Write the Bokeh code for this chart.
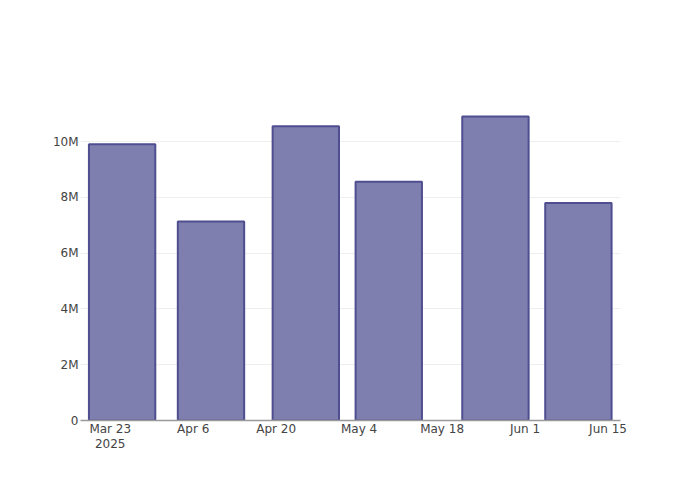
from datetime import datetime
from bokeh.plotting import figure
from bokeh.models import Range1d, FixedTicker, ColumnDataSource, LinearAxis
from bokeh.embed import file_html
from bokeh.resources import INLINE

dates = [datetime(2025, 3, 25), datetime(2025, 4, 9), datetime(2025, 4, 25),
         datetime(2025, 5, 9), datetime(2025, 5, 27), datetime(2025, 6, 10)]
values = [9.9e6, 7.13e6, 10.55e6, 8.56e6, 10.9e6, 7.8e6]

x_tick_dates = [datetime(2025, 3, 23), datetime(2025, 4, 6), datetime(2025, 4, 20),
                datetime(2025, 5, 4), datetime(2025, 5, 18), datetime(2025, 6, 1),
                datetime(2025, 6, 15)]
x_tick_labels = ["Mar 23", "Apr 6", "Apr 20", "May 4", "May 18", "Jun 1", "Jun 15"]
year_label = "2025"
y_ticks = [0, 2e6, 4e6, 6e6, 8e6, 10e6]
y_tick_labels = ["0", "2M", "4M", "6M", "8M", "10M"]

def ms(d):
    return (d - datetime(1970, 1, 1)).total_seconds() * 1000.0

FONT = "DejaVu Sans"
TXT = "#444444"

p = figure(output_backend="svg", toolbar_location=None,
           frame_width=540, frame_height=320,
           min_border_left=80, min_border_right=64,
           min_border_top=100, min_border_bottom=64,
           x_range=Range1d(ms(datetime(2025, 3, 17, 23, 30)), ms(datetime(2025, 6, 17, 2, 30))),
           y_range=Range1d(0, 11.47e6))
p.outline_line_color = None
p.background_fill_color = "white"
p.border_fill_color = "white"

src = ColumnDataSource(dict(x=[ms(d) for d in dates], top=values))
p.vbar(x="x", top="top", bottom=0, width=11.2 * 86400000, source=src,
       fill_color="#7F7FAF", line_color="#4E4E90", line_width=2)

# x axis
xa = p.xaxis[0]
xa.ticker = FixedTicker(ticks=[ms(d) for d in x_tick_dates])
xa.major_label_overrides = {ms(d): lab for d, lab in zip(x_tick_dates, x_tick_labels)}
xa.axis_line_color = "#9a9a9a"
xa.axis_line_width = 1.5
xa.major_tick_line_color = None
xa.minor_tick_line_color = None
xa.major_label_standoff = -5
xa.major_label_text_font = FONT
xa.major_label_text_font_size = "12px"
xa.major_label_text_color = TXT

# second row of x labels (year)
xa2 = LinearAxis(ticker=FixedTicker(ticks=[ms(x_tick_dates[0])]),
                 major_label_overrides={ms(x_tick_dates[0]): year_label})
xa2.axis_line_color = None
xa2.major_tick_line_color = None
xa2.minor_tick_line_color = None
xa2.major_label_standoff = -6
xa2.major_label_text_font = FONT
xa2.major_label_text_font_size = "12px"
xa2.major_label_text_color = TXT
p.add_layout(xa2, "below")

# y axis
ya = p.yaxis[0]
ya.ticker = FixedTicker(ticks=y_ticks)
ya.major_label_overrides = {float(t): lab for t, lab in zip(y_ticks, y_tick_labels)}
ya.axis_line_color = None
ya.major_tick_line_color = None
ya.minor_tick_line_color = None
ya.major_label_standoff = -4
ya.major_label_text_font = FONT
ya.major_label_text_font_size = "12px"
ya.major_label_text_color = TXT

p.xgrid.grid_line_color = None
p.ygrid.grid_line_color = "#eeeeee"
p.ygrid.grid_line_width = 1

open("out.html", "w").write(file_html(p, INLINE))
